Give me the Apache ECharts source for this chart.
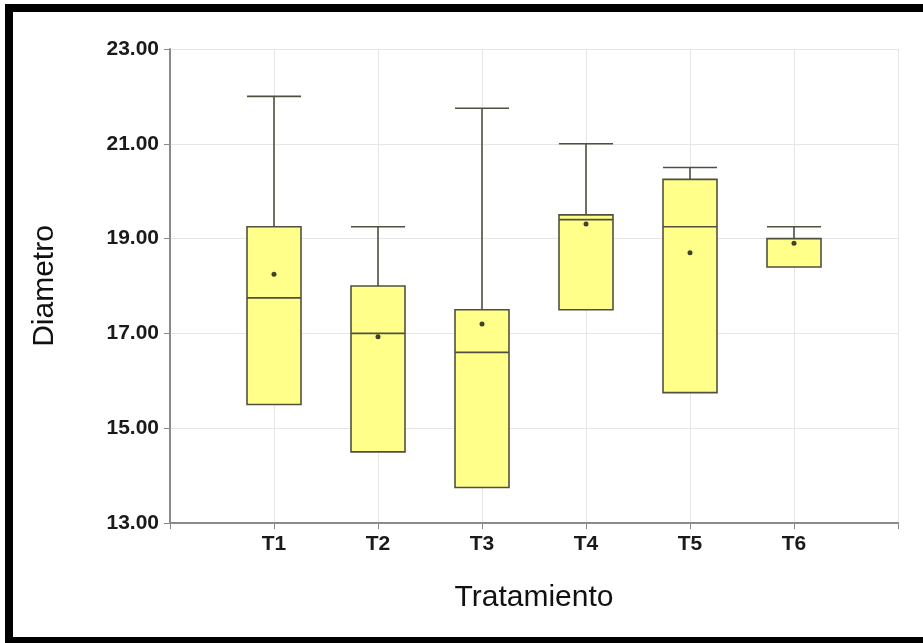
<!DOCTYPE html>
<html>
<head>
<meta charset="utf-8">
<script src="https://cdn.jsdelivr.net/npm/echarts@6/dist/echarts.min.js"></script>
<style>
html,body{margin:0;padding:0;background:#fff;}
#chart{width:923px;height:643px;}
</style>
</head>
<body>
<div id="chart"></div>
<script>
const categories = ['T1', 'T2', 'T3', 'T4', 'T5', 'T6'];
// [min, Q1, median, Q3, max]
const boxStats = [
  [15.5, 15.5, 17.75, 19.25, 22.0],
  [14.5, 14.5, 17.0, 18.0, 19.25],
  [13.75, 13.75, 16.6, 17.5, 21.75],
  [17.5, 17.5, 19.4, 19.5, 21.0],
  [15.75, 15.75, 19.25, 20.25, 20.5],
  [18.4, 18.4, 18.4, 19.0, 19.25]
];
const means = [18.25, 16.93, 17.2, 19.31, 18.7, 18.9];
const yTicks = [13, 15, 17, 19, 21, 23];

const axisCats = [''].concat(categories, ['']);
const boxData = boxStats.map((s, i) => [i + 1].concat(s));
const meanData = means.map((m, i) => [i + 1, m]);

const chart = echarts.init(document.getElementById('chart'), null, {renderer: 'canvas'});
chart.setOption({
  backgroundColor: '#ffffff',
  animation: false,
  grid: {left: 170, right: 25, top: 49, bottom: 120, containLabel: false},
  xAxis: {
    type: 'category',
    data: axisCats,
    boundaryGap: false,
    name: 'Tratamiento',
    nameLocation: 'middle',
    nameGap: 60,
    nameTextStyle: {fontFamily: 'Liberation Sans', fontSize: 30, color: '#111', verticalAlign: 'top'},
    axisLine: {lineStyle: {color: '#8a8a8a', width: 2}},
    axisTick: {show: true, length: 6, lineStyle: {color: '#8a8a8a'}},
    axisLabel: {fontFamily: 'Liberation Sans', fontWeight: 'bold', fontSize: 21, color: '#1a1a1a', margin: 11, interval: 0},
    splitLine: {show: true, lineStyle: {color: '#e6e6e6', width: 1}}
  },
  yAxis: {
    type: 'value',
    min: yTicks[0],
    max: yTicks[yTicks.length - 1],
    interval: 2,
    name: 'Diametro',
    nameLocation: 'middle',
    nameGap: 110,
    nameRotate: 90,
    nameTextStyle: {fontFamily: 'Liberation Sans', fontSize: 30, color: '#111'},
    axisLine: {show: true, lineStyle: {color: '#8a8a8a', width: 2}},
    axisTick: {show: true, length: 6, lineStyle: {color: '#8a8a8a'}},
    axisLabel: {fontFamily: 'Liberation Sans', fontWeight: 'bold', fontSize: 21, color: '#1a1a1a', margin: 11,
      formatter: v => v.toFixed(2)},
    splitLine: {show: true, lineStyle: {color: '#e6e6e6', width: 1}}
  },
  series: [
    {
      type: 'boxplot',
      data: boxData,
      encode: {x: 0, y: [1, 2, 3, 4, 5]},
      boxWidth: [54, 54],
      itemStyle: {color: '#ffff8a', borderColor: '#505040', borderWidth: 1.6},
      emphasis: {disabled: true}
    },
    {
      type: 'scatter',
      data: meanData,
      symbol: 'circle',
      symbolSize: 5,
      itemStyle: {color: '#111'},
      z: 5
    }
  ],
  graphic: [
    {type: 'rect', shape: {x: 5, y: 4, width: 918, height: 8}, style: {fill: '#000'}},
    {type: 'rect', shape: {x: 5, y: 4, width: 8, height: 639}, style: {fill: '#000'}},
    {type: 'rect', shape: {x: 5, y: 637, width: 918, height: 6}, style: {fill: '#000'}}
  ]
});
</script>
</body>
</html>
